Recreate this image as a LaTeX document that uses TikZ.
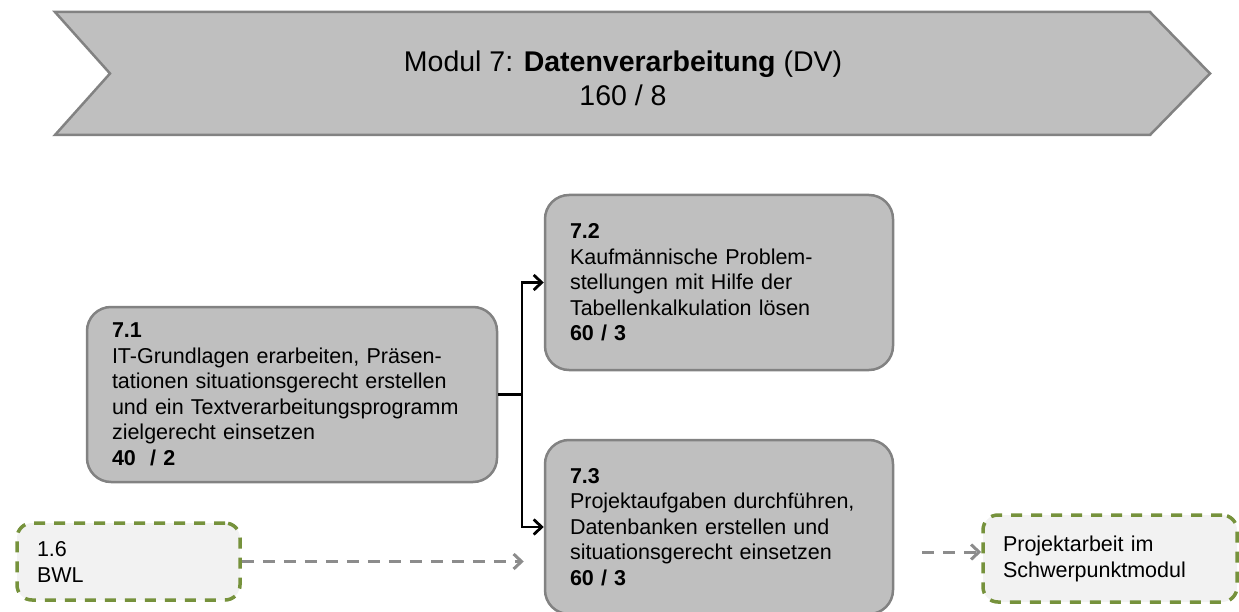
\documentclass[tikz,border=0pt]{standalone}
\usepackage{fontspec}
\setmainfont{Liberation Sans}
\usetikzlibrary{arrows.meta}

\definecolor{boxgray}{HTML}{BFBFBF}
\definecolor{rimgray}{HTML}{828282}
\definecolor{olivegreen}{HTML}{76923C}
\definecolor{palegray}{HTML}{F2F2F2}
\definecolor{linkgray}{HTML}{8C8C8C}

\tikzset{
    modbox/.style={rectangle, rounded corners=24pt, draw=rimgray, fill=boxgray, line width=2.5pt,
        inner xsep=25pt, align=left, font=\fontsize{21.5}{25.5}\selectfont},
    extbox/.style={rectangle, rounded corners=15pt, draw=olivegreen, fill=palegray, line width=3.5pt,
        dash pattern=on 11pt off 9pt, inner xsep=20pt, align=left, font=\fontsize{21.5}{26}\selectfont},
    flow/.style={black, line width=2.8pt, -{Straight Barb[length=8pt, width=15pt, line width=2.8pt]}},
    extflow/.style={linkgray, line width=3pt, dash pattern=on 12pt off 9pt,
        -{Straight Barb[length=8pt, width=15pt, line width=3pt]}}
}

\begin{document}
\begin{tikzpicture}[x=1pt, y=-1pt]
    \useasboundingbox (0,0) rectangle (1239,612);
    \clip (0,0) rectangle (1239,612);

    % module banner
    \draw[draw=rimgray, fill=boxgray, line width=2.5pt]
        (55,12) -- (1150,12) -- (1210,73.5) -- (1150,135) -- (55,135) -- (110,73.5) -- cycle;
    \node [align=center, font=\fontsize{28.5}{34}\selectfont] (title) at (623,78)
        {Modul 7: \textbf{Datenverarbeitung} (DV)\\160 / 8};

    % sub-modules
    \node [modbox, minimum width=410pt, minimum height=175pt, text width=360pt] (m71) at (292,394.5)
        {\textbf{7.1}\\IT-Grundlagen erarbeiten, Präsen-\\tationen situationsgerecht erstellen\\und ein Textverarbeitungsprogramm\\zielgerecht einsetzen\\\textbf{40~~/ 2}};
    \node [modbox, minimum width=348pt, minimum height=175pt, text width=298pt] (m72) at (719,282.5)
        {\textbf{7.2}\\Kaufmännische Problem-\\stellungen mit Hilfe der\\Tabellenkalkulation lösen\\\textbf{60 / 3}};
    \node [modbox, minimum width=348pt, minimum height=174pt, text width=298pt] (m73) at (719,527)
        {\textbf{7.3}\\Projektaufgaben durchführen,\\Datenbanken erstellen und\\situationsgerecht einsetzen\\\textbf{60 / 3}};

    % other modules
    \node [extbox, minimum width=223pt, minimum height=77pt, text width=183pt] (bwl) at (128.5,561.5)
        {1.6\\BWL};
    \node [extbox, minimum width=254pt, minimum height=87pt, text width=214pt] (proj) at (1110,558.5)
        {Projektarbeit im\\Schwerpunktmodul};

    \coordinate (split) at (522,394.5);
    \coordinate (projin) at (922,552);

    \draw[black, line width=2.8pt] (m71.east) -- (split);
    \draw[flow] (split) |- (m72.west);
    \draw[flow] (split) |- (m73.west);
    \draw[extflow, shorten >=20pt] (bwl.east) -- (bwl.east -| m73.west);
    \draw[extflow] (projin) -- (projin -| proj.west);
\end{tikzpicture}
\end{document}
